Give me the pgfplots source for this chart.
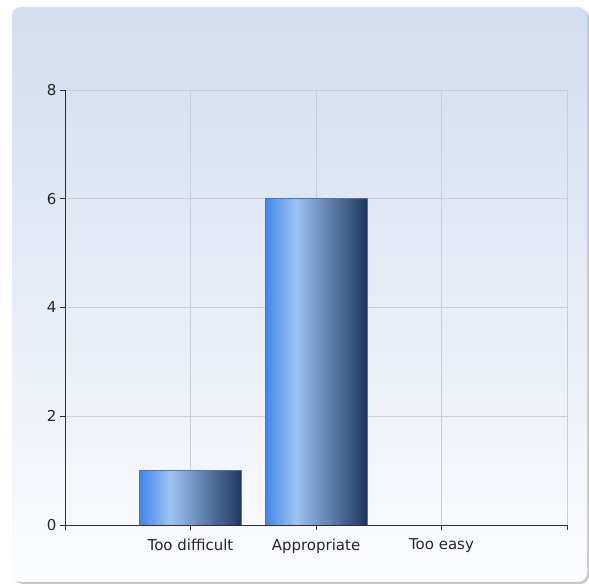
\documentclass[border=0pt]{standalone}
\usepackage{pgfplots}
\pgfplotsset{compat=1.18}
\usepackage{fontspec}
\setmainfont{DejaVu Sans}

\definecolor{bgtop}{HTML}{D2DDEE}
\definecolor{bgbot}{HTML}{FBFCFE}
\definecolor{gridc}{HTML}{C9CED8}
\definecolor{barA}{HTML}{3F86EA}
\definecolor{barB}{HTML}{9DC3F4}
\definecolor{barC}{HTML}{1D365E}
\definecolor{barEdge}{HTML}{62728E}
\definecolor{axc}{HTML}{2E2E2E}

% bar colour runs left to right; tikz fits the path into 25bp..75bp
\pgfdeclarehorizontalshading{barshade}{100bp}{color(0bp)=(barA); color(25bp)=(barA); color(40bp)=(barB); color(75bp)=(barC); color(100bp)=(barC)}

\begin{document}
\begin{tikzpicture}
\path (0bp,0bp) rectangle (589bp,586bp);
% panel with a soft shadow
\fill[black!22, rounded corners=9bp] (14bp,2bp) rectangle (589bp,577bp);
\shade[top color=bgtop, bottom color=bgbot, rounded corners=9bp] (12bp,4bp) rectangle (587bp,579bp);

\begin{axis}[
    at={(65bp,61bp)}, anchor=south west,
    scale only axis,
    width=502bp, height=435bp,
    xmin=0, xmax=4, ymin=0, ymax=8,
    xtick={0,1,2,3,4},
    xticklabels={,Too difficult,Appropriate,Too easy,},
    ytick={0,2,4,6,8},
    axis x line*=bottom, axis y line*=left,
    axis line style={axc, line width=1bp, -},
    tick align=outside,
    major tick length=5bp,
    tick style={axc, line width=0.9bp},
    grid=major,
    grid style={gridc, line width=0.7bp},
    ticklabel style={font=\fontsize{15bp}{17bp}\selectfont, text=black!85},
    xticklabel style={yshift=-5.5bp},
    /pgf/number format/assume math mode=true,
]
\addplot[ybar, bar width=102bp, bar shift=0pt, shade, shading=barshade, draw=barEdge, line width=0.6bp]
    coordinates {(1,1)};
\addplot[ybar, bar width=102bp, bar shift=0pt, shade, shading=barshade, draw=barEdge, line width=0.6bp]
    coordinates {(2,6)};
% Too easy: no answers
\addplot[ybar, bar width=102bp, bar shift=0pt, draw=none, fill=none]
    coordinates {(3,0)};
\end{axis}
\end{tikzpicture}
\end{document}
